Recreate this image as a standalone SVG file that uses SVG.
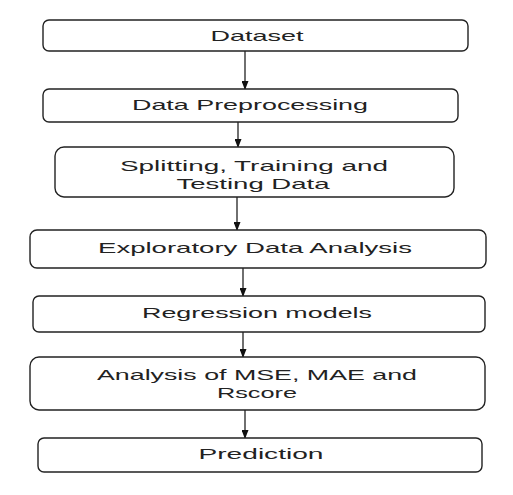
<svg xmlns="http://www.w3.org/2000/svg" width="513" height="495" viewBox="0 0 513 495">
<style>
.box{fill:#fff;stroke:#222;stroke-width:1.4}
.t{font-family:"Liberation Sans",Arial,sans-serif;font-size:15px;fill:#222;text-anchor:middle}
.c{stroke:#222;stroke-width:1.3;fill:none}
</style>
<defs>
<marker id="ah" markerWidth="9" markerHeight="7" refX="8" refY="3.5" orient="auto" markerUnits="userSpaceOnUse">
<path d="M0,0 L9,3.5 L0,7 Z" fill="#111"/>
</marker>
</defs>
<rect width="513" height="495" fill="#fff"/>
<g id="connectors">
<line class="c" x1="245" y1="51" x2="245" y2="89" marker-end="url(#ah)"/>
<line class="c" x1="238" y1="122" x2="238" y2="147" marker-end="url(#ah)"/>
<line class="c" x1="237" y1="197" x2="237" y2="230" marker-end="url(#ah)"/>
<line class="c" x1="243" y1="268" x2="243" y2="296" marker-end="url(#ah)"/>
<line class="c" x1="243" y1="332" x2="243" y2="357" marker-end="url(#ah)"/>
<line class="c" x1="245" y1="410" x2="245" y2="438" marker-end="url(#ah)"/>
</g>
<g id="dataset">
<rect class="box" x="43" y="20" width="425" height="31" rx="6"/>
<text class="t" x="257" y="41" textLength="93" lengthAdjust="spacingAndGlyphs">Dataset</text>
</g>
<g id="preprocessing">
<rect class="box" x="43" y="89" width="415" height="33" rx="6"/>
<text class="t" x="250" y="110" textLength="236" lengthAdjust="spacingAndGlyphs">Data Preprocessing</text>
</g>
<g id="splitting">
<rect class="box" x="55" y="147" width="399" height="50" rx="9"/>
<text class="t" x="254" y="171" textLength="268" lengthAdjust="spacingAndGlyphs">Splitting, Training and</text>
<text class="t" x="253" y="189" textLength="153" lengthAdjust="spacingAndGlyphs">Testing Data</text>
</g>
<g id="eda">
<rect class="box" x="30" y="230" width="456" height="38" rx="7"/>
<text class="t" x="255" y="253" textLength="314" lengthAdjust="spacingAndGlyphs">Exploratory Data Analysis</text>
</g>
<g id="regression">
<rect class="box" x="33" y="296" width="452" height="36" rx="6"/>
<text class="t" x="257" y="318" textLength="230" lengthAdjust="spacingAndGlyphs">Regression models</text>
</g>
<g id="analysis">
<rect class="box" x="30" y="357" width="455" height="53" rx="9"/>
<text class="t" x="257" y="380" textLength="320" lengthAdjust="spacingAndGlyphs">Analysis of MSE, MAE and</text>
<text class="t" x="257" y="398" textLength="80" lengthAdjust="spacingAndGlyphs">Rscore</text>
</g>
<g id="prediction">
<rect class="box" x="38" y="438" width="444" height="34" rx="6"/>
<text class="t" x="261" y="459" textLength="125" lengthAdjust="spacingAndGlyphs">Prediction</text>
</g>
</svg>
